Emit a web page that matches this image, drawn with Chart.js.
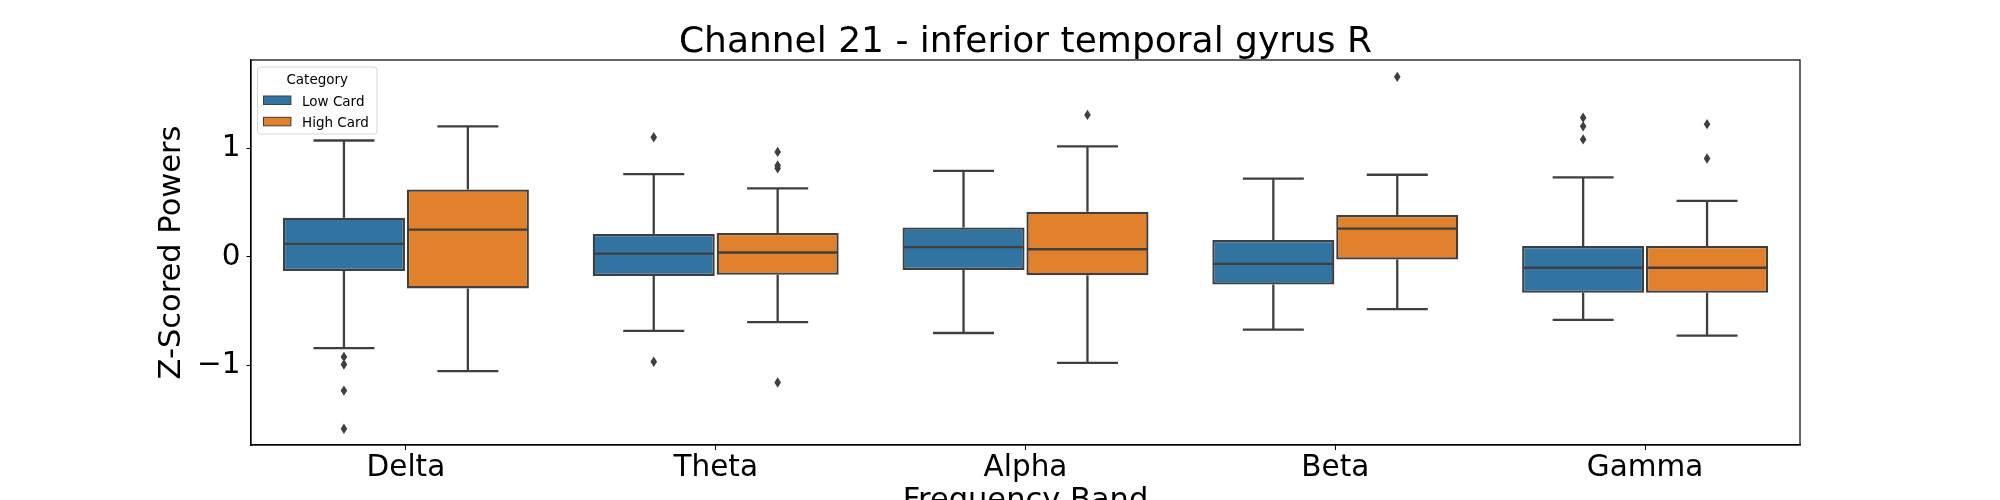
<!DOCTYPE html>
<html>
<head>
<meta charset="utf-8">
<script src="https://cdn.jsdelivr.net/npm/chart.js@4.4.0/dist/chart.umd.min.js"></script>
<style>
  html, body { margin: 0; padding: 0; background: #ffffff; }
  #wrap { width: 2000px; height: 500px; }
</style>
</head>
<body>
<div id="wrap"><canvas id="c" width="2000" height="500"></canvas></div>
<script>
// ---- data ----
const bands = ['Delta', 'Theta', 'Alpha', 'Beta', 'Gamma'];
const seriesNames = ['Low Card', 'High Card'];
const chartTitle = 'Channel 21 - inferior temporal gyrus R';
const xTitle = 'Frequency Band';
const yTitle = 'Z-Scored Powers';
const legendTitle = 'Category';
const yTicks = [-1, 0, 1];

const lowWhiskerLo = [-0.84, -0.68, -0.70, -0.67, -0.58];
const lowQ1        = [-0.13, -0.175, -0.12, -0.255, -0.33];
const lowMedian    = [0.12, 0.03, 0.09, -0.065, -0.10];
const lowQ3        = [0.36, 0.21, 0.27, 0.155, 0.10];
const lowWhiskerHi = [1.07, 0.76, 0.79, 0.72, 0.73];
const lowOutliers  = [[-0.92, -0.99, -1.23, -1.58], [1.10, -0.965], [], [], [1.28, 1.20, 1.08]];

const highWhiskerLo = [-1.05, -0.60, -0.975, -0.48, -0.725];
const highQ1        = [-0.29, -0.165, -0.17, -0.025, -0.33];
const highMedian    = [0.25, 0.04, 0.07, 0.26, -0.10];
const highQ3        = [0.62, 0.22, 0.415, 0.385, 0.10];
const highWhiskerHi = [1.20, 0.63, 1.015, 0.755, 0.515];
const highOutliers  = [[], [0.965, 0.84, 0.815, -1.155], [1.305], [1.655], [1.22, 0.905]];

const yMin = -1.73, yMax = 1.81;

// ---- styling ----
const FONT = "'DejaVu Sans', 'Liberation Sans', sans-serif";
const colors = ['#3274a1', '#e1812c'];
const lineColor = '#3f3f3f';

const stats = [
  { lo: lowWhiskerLo, q1: lowQ1, med: lowMedian, q3: lowQ3, hi: lowWhiskerHi, out: lowOutliers },
  { lo: highWhiskerLo, q1: highQ1, med: highMedian, q3: highQ3, hi: highWhiskerHi, out: highOutliers }
];

const boxPlugin = {
  id: 'boxExtras',
  afterDatasetsDraw(chart) {
    const ctx = chart.ctx;
    const ys = chart.scales.y;
    ctx.save();
    ctx.strokeStyle = lineColor;
    ctx.fillStyle = lineColor;
    ctx.lineWidth = 2.3;
    ctx.lineCap = 'butt';
    stats.forEach((s, di) => {
      const meta = chart.getDatasetMeta(di);
      meta.data.forEach((el, i) => {
        const x = el.x, w = el.width;
        const yq1 = ys.getPixelForValue(s.q1[i]);
        const yq3 = ys.getPixelForValue(s.q3[i]);
        const ylo = ys.getPixelForValue(s.lo[i]);
        const yhi = ys.getPixelForValue(s.hi[i]);
        const ymed = ys.getPixelForValue(s.med[i]);
        ctx.beginPath();
        // whiskers
        ctx.moveTo(x, yq3); ctx.lineTo(x, yhi);
        ctx.moveTo(x, yq1); ctx.lineTo(x, ylo);
        // caps
        ctx.moveTo(x - w / 4, yhi); ctx.lineTo(x + w / 4, yhi);
        ctx.moveTo(x - w / 4, ylo); ctx.lineTo(x + w / 4, ylo);
        // median
        ctx.moveTo(x - w / 2 + 1, ymed); ctx.lineTo(x + w / 2 - 1, ymed);
        ctx.stroke();
        // outliers (thin diamonds)
        s.out[i].forEach(v => {
          const yy = ys.getPixelForValue(v);
          ctx.beginPath();
          ctx.moveTo(x, yy - 5.2);
          ctx.lineTo(x + 3.3, yy);
          ctx.lineTo(x, yy + 5.2);
          ctx.lineTo(x - 3.3, yy);
          ctx.closePath();
          ctx.fill();
        });
      });
    });
    ctx.restore();
  },
  afterDraw(chart) {
    const ctx = chart.ctx;
    const a = chart.chartArea;
    ctx.save();
    // frame (top and right spines)
    ctx.strokeStyle = '#000000';
    ctx.lineWidth = 1.2;
    ctx.strokeRect(a.left, a.top, a.right - a.left, a.bottom - a.top);
    // title centered over the axes
    ctx.fillStyle = '#000000';
    ctx.font = `36px ${FONT}`;
    ctx.textAlign = 'center';
    ctx.textBaseline = 'alphabetic';
    ctx.fillText(chartTitle, (a.left + a.right) / 2, 52);
    // legend
    const lx = a.left + 6.5, ly = a.top + 7, lw = 119.5, lh = 67;
    ctx.beginPath();
    if (ctx.roundRect) ctx.roundRect(lx, ly, lw, lh, 3); else ctx.rect(lx, ly, lw, lh);
    ctx.fillStyle = 'rgba(255,255,255,0.8)';
    ctx.fill();
    ctx.strokeStyle = '#d6d6d6';
    ctx.lineWidth = 1;
    ctx.stroke();
    ctx.fillStyle = '#000000';
    ctx.font = `13.5px ${FONT}`;
    ctx.textAlign = 'center';
    ctx.fillText(legendTitle, lx + lw / 2, ly + 17.3);
    ctx.textAlign = 'left';
    seriesNames.forEach((name, k) => {
      const py = ly + 29 + k * 21.3;
      ctx.fillStyle = colors[k];
      ctx.fillRect(lx + 6, py, 27.4, 8.5);
      ctx.strokeStyle = lineColor;
      ctx.lineWidth = 1;
      ctx.strokeRect(lx + 6, py, 27.4, 8.5);
      ctx.fillStyle = '#000000';
      ctx.font = `13.5px ${FONT}`;
      ctx.fillText(name, lx + 44.5, py + 9.5);
    });
    ctx.restore();
  }
};

const datasets = stats.map((s, di) => ({
  label: seriesNames[di],
  data: bands.map((b, i) => [s.q1[i], s.q3[i]]),
  backgroundColor: colors[di],
  borderColor: lineColor,
  borderWidth: 2.3,
  borderSkipped: false,
  categoryPercentage: 0.8,
  barPercentage: 0.985
}));

new Chart(document.getElementById('c'), {
  type: 'bar',
  data: { labels: bands, datasets },
  plugins: [boxPlugin],
  options: {
    responsive: false,
    animation: false,
    devicePixelRatio: 1,
    layout: { padding: { left: 0, right: 200, top: 60, bottom: 0 } },
    plugins: {
      legend: { display: false },
      title: { display: false },
      tooltip: { enabled: false }
    },
    scales: {
      x: {
        type: 'category',
        offset: true,
        grid: { display: true, drawOnChartArea: false, drawTicks: true, tickLength: 5, color: '#000000', offset: false },
        border: { display: true, color: '#000000', width: 1.2 },
        ticks: { color: '#000000', font: { family: FONT, size: 29.5 }, padding: 1, maxRotation: 0 },
        title: { display: true, text: xTitle, color: '#000000', font: { family: FONT, size: 30.5 }, padding: { top: 0, bottom: -19.3 } },
        afterFit(scale) { scale.height = 55; }
      },
      y: {
        type: 'linear',
        min: yMin,
        max: yMax,
        afterBuildTicks(scale) { scale.ticks = yTicks.map(v => ({ value: v })); },
        grid: { display: true, drawOnChartArea: false, drawTicks: true, tickLength: 4.5, color: '#000000' },
        border: { display: true, color: '#000000', width: 1.2 },
        ticks: {
          color: '#000000',
          font: { family: FONT, size: 29.5 },
          padding: 6,
          callback: (v) => (v < 0 ? '\u2212' + Math.abs(v) : String(v))
        },
        title: { display: true, text: yTitle, color: '#000000', font: { family: FONT, size: 30.5 }, padding: { top: 154.2, bottom: 0 } },
        afterFit(scale) { scale.width = 251; }
      }
    }
  }
});
</script>
</body>
</html>
